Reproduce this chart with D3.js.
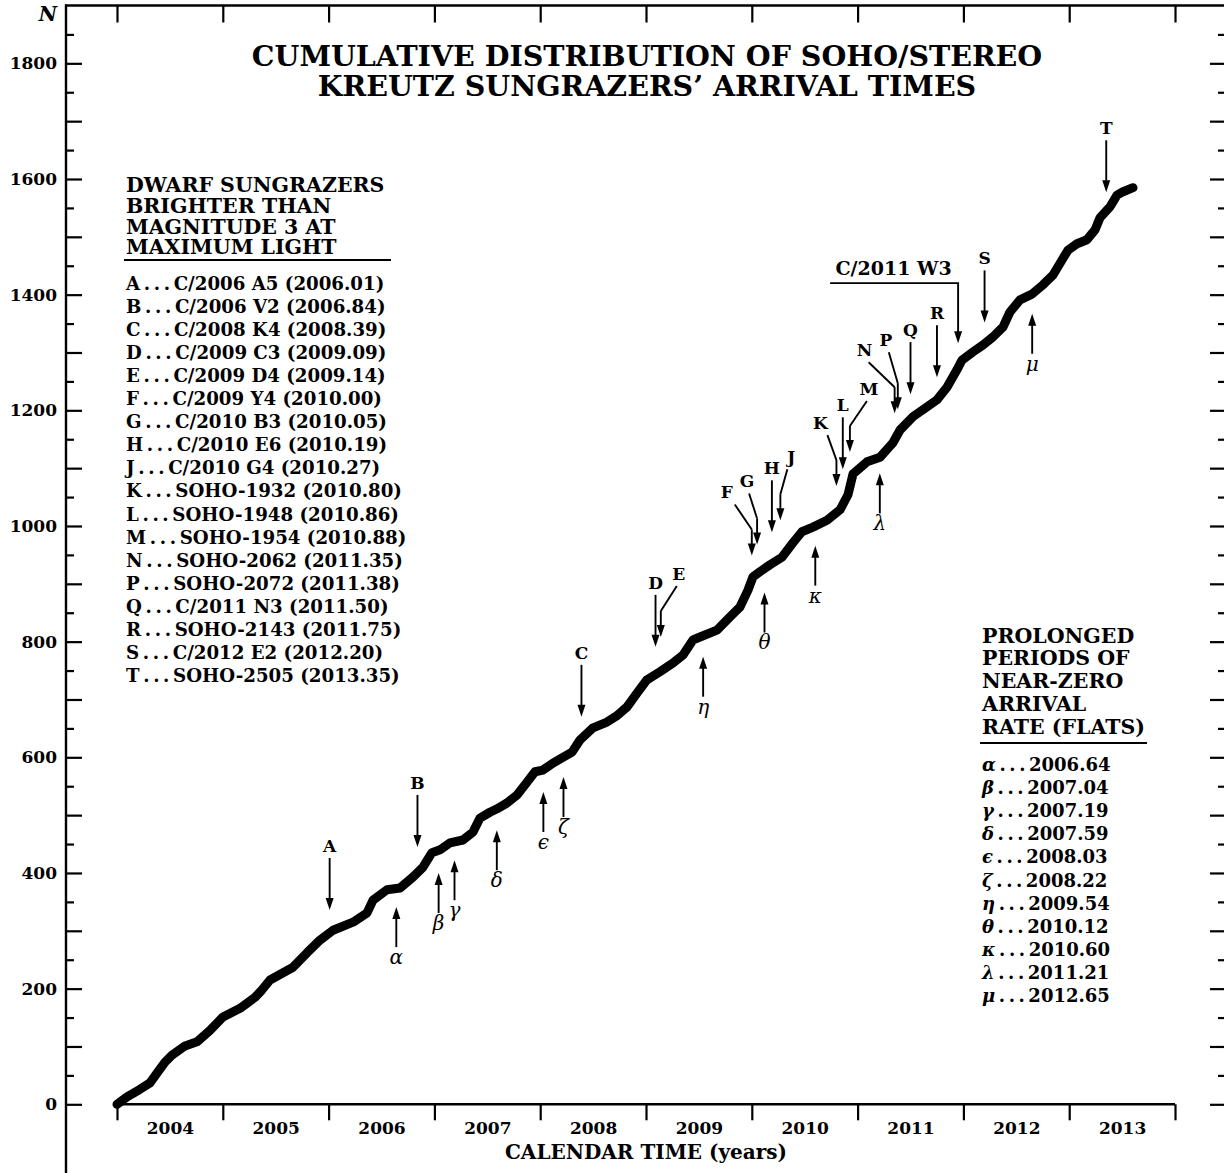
<!DOCTYPE html>
<html><head><meta charset="utf-8">
<script src="https://cdn.jsdelivr.net/npm/d3@7"></script>
<style>
html,body{margin:0;padding:0;background:#fff;}
svg{display:block;}
text{font-family:"DejaVu Serif",serif;fill:#000;}
</style></head><body>
<svg id="chart" width="1224" height="1173"></svg>
<script>
// ---------------- DATA ----------------
const curveYears = [2004.000,2004.095,2004.217,2004.312,2004.378,2004.454,2004.520,2004.643,2004.756,2004.879,
  2005.002,2005.163,2005.304,2005.371,2005.446,2005.664,2005.796,2005.919,2006.042,2006.231,
  2006.363,2006.420,2006.552,2006.675,2006.798,2006.892,2006.977,2007.053,2007.147,2007.270,
  2007.365,2007.431,2007.525,2007.592,2007.686,2007.781,2007.875,2007.951,2008.026,2008.121,
  2008.206,2008.301,2008.376,2008.499,2008.631,2008.726,2008.820,2008.915,2009.009,2009.132,
  2009.255,2009.350,2009.444,2009.510,2009.671,2009.794,2009.888,2009.964,2010.011,2010.078,
  2010.172,2010.285,2010.389,2010.474,2010.578,2010.711,2010.834,2010.909,2010.957,2011.089,
  2011.212,2011.334,2011.401,2011.524,2011.656,2011.750,2011.845,2011.939,2011.987,2012.091,
  2012.185,2012.280,2012.374,2012.440,2012.535,2012.648,2012.752,2012.847,2012.932,2012.989,
  2013.074,2013.168,2013.244,2013.291,2013.386,2013.452,2013.509,2013.603];
const curveCounts = [0,13,26,37,54,73,85,101,108,128,
  151,166,185,198,215,237,262,284,301,315,
  331,353,371,374,393,410,435,440,452,457,
  471,495,505,511,521,535,557,575,578,590,
  599,609,630,651,661,672,687,711,734,748,
  763,777,803,808,820,843,860,889,912,921,
  933,946,971,990,998,1010,1028,1054,1090,1111,
  1119,1144,1166,1189,1206,1218,1240,1270,1287,1301,
  1313,1327,1344,1370,1391,1401,1417,1434,1460,1477,
  1488,1495,1512,1533,1552,1572,1578,1585];

const yearBounds = [2004,2005,2006,2007,2008,2009,2010,2011,2012,2013,2014];
const yearLabels = [2004,2005,2006,2007,2008,2009,2010,2011,2012,2013];
const countLabels = [0,200,400,600,800,1000,1200,1400,1600,1800];

const cometLetters = ["A","B","C","D","E","F","G","H","J","K","L","M","N","P","Q","R","S","T"];
const cometNames = ["C/2006 A5","C/2006 V2","C/2008 K4","C/2009 C3","C/2009 D4","C/2009 Y4","C/2010 B3",
  "C/2010 E6","C/2010 G4","SOHO-1932","SOHO-1948","SOHO-1954","SOHO-2062","SOHO-2072","C/2011 N3",
  "SOHO-2143","C/2012 E2","SOHO-2505"];
const cometDates = [2006.01,2006.84,2008.39,2009.09,2009.14,2010.00,2010.05,2010.19,2010.27,2010.80,
  2010.86,2010.88,2011.35,2011.38,2011.50,2011.75,2012.20,2013.35];

const flatSymbols = ["α","β","γ","δ","ϵ","ζ","η","θ","κ","λ","μ"];
const flatDates = [2006.64,2007.04,2007.19,2007.59,2008.03,2008.22,2009.54,2010.12,2010.60,2011.21,2012.65];

const lovejoyName = "C/2011 W3";
const lovejoyDate = 2011.95;

const titleLines = ["CUMULATIVE DISTRIBUTION OF SOHO/STEREO","KREUTZ SUNGRAZERS’ ARRIVAL TIMES"];
const leftHeader = ["DWARF SUNGRAZERS","BRIGHTER THAN","MAGNITUDE 3 AT","MAXIMUM LIGHT"];
const rightHeader = ["PROLONGED","PERIODS OF","NEAR-ZERO","ARRIVAL","RATE (FLATS)"];
const xTitle = "CALENDAR TIME (years)";
const yTitle = "N";

// ---------------- LAYOUT ----------------
// arrow tips given in count units (N); offsets in px
const cometArrowLayout = {
  A:{tip:336}, B:{tip:445}, C:{tip:670}, D:{tip:791},
  E:{tip:808, bend:16, lab:2},
  F:{tip:949, bend:-17, lab:-8},
  G:{tip:968, bend:-8, lab:-2},
  H:{tip:989},
  J:{tip:1010, bend:7, lab:4},
  K:{tip:1069, bend:-9, lab:-7},
  L:{tip:1098},
  M:{tip:1128, bend:17, lab:2, shift:5},
  N:{tip:1195, bend:-26, lab:-4},
  P:{tip:1202, bend:-9, lab:-3, rise:6},
  Q:{tip:1228}, R:{tip:1257}, S:{tip:1352}, T:{tip:1577}
};
const flatArrowTips = [341,400,422,474,540,566,774,885,966,1091,1367];
const lovejoyLayout = {tip:1316, barN:1420, barStart:2010.74, labelAt:2011.34, labelN:1434};

// ---------------- DRAW ----------------
const svg = d3.select("#chart");
const x = d3.scaleLinear().domain([2003.518, 2014.482]).range([66, 1226]);
const y = d3.scaleLinear().domain([0, 1900]).range([1104.3, 5.5]);
const FRAME_W = 2.4, TICK_W = 2.2;

function cleanAxis(sel){
  sel.attr("font-family", null).attr("font-size", null);
  sel.select(".domain").remove();
  sel.selectAll(".tick line").attr("stroke","#000").attr("stroke-width",TICK_W);
}

// frame
svg.append("line").attr("x1",x.range()[0]).attr("x2",x.range()[0])
  .attr("y1",y.range()[1]-1).attr("y2",1190).attr("stroke","#000").attr("stroke-width",FRAME_W);
svg.append("line").attr("x1",x.range()[0]-1).attr("x2",1240)
  .attr("y1",y.range()[1]).attr("y2",y.range()[1]).attr("stroke","#000").attr("stroke-width",FRAME_W);

const majorN = d3.range(0,1900,100), minorN = d3.range(50,1900,100);
// left ticks
svg.append("g").attr("transform",`translate(${x.range()[0]},0)`)
  .call(d3.axisRight(y).tickValues(majorN).tickSize(16).tickFormat("")).call(cleanAxis);
svg.append("g").attr("transform",`translate(${x.range()[0]},0)`)
  .call(d3.axisRight(y).tickValues(minorN).tickSize(8).tickFormat("")).call(cleanAxis);
// left labels
const yl = svg.append("g").attr("transform",`translate(${x.range()[0]},0)`)
  .call(d3.axisLeft(y).tickValues(countLabels).tickSize(0).tickPadding(9).tickFormat(d3.format("d")))
  .call(cleanAxis);
yl.selectAll("text").attr("font-size",17).attr("font-weight","bold");
// right ticks
svg.append("g").attr("transform",`translate(${x.range()[1]},0)`)
  .call(d3.axisLeft(y).tickValues(majorN).tickSize(16).tickFormat("")).call(cleanAxis);
svg.append("g").attr("transform",`translate(${x.range()[1]},0)`)
  .call(d3.axisLeft(y).tickValues(minorN).tickSize(8).tickFormat("")).call(cleanAxis);
// top ticks
svg.append("g").attr("transform",`translate(0,${y.range()[1]})`)
  .call(d3.axisBottom(x).tickValues(yearBounds).tickSize(17).tickFormat("")).call(cleanAxis);
// bottom axis at N=0
svg.append("line").attr("x1",x(2004)).attr("x2",x(2014)).attr("y1",y(0)).attr("y2",y(0))
  .attr("stroke","#000").attr("stroke-width",FRAME_W);
svg.append("g").attr("transform",`translate(0,${y(0)})`)
  .call(d3.axisBottom(x).tickValues(yearBounds).tickSize(16).tickFormat("")).call(cleanAxis);
const xl = svg.append("g").attr("transform",`translate(0,${y(0)})`)
  .call(d3.axisBottom(x).tickValues(yearLabels.map(d=>d+0.5)).tickSize(0).tickPadding(18)
    .tickFormat(d=>String(Math.floor(d)))).call(cleanAxis);
xl.selectAll("text").attr("font-size",17).attr("font-weight","bold");

// axis titles
svg.append("text").attr("x",(x(2004)+x(2014))/2).attr("y",1159).attr("text-anchor","middle")
  .attr("font-size",20).attr("font-weight","bold").text(xTitle);
svg.append("text").attr("x",57).attr("y",21).attr("text-anchor","end")
  .attr("font-size",20).attr("font-weight","bold").attr("font-style","italic").text(yTitle);

// title
const titleText = svg.append("text").attr("text-anchor","middle")
  .attr("font-size",28.5).attr("font-weight","bold");
titleLines.forEach((t,i)=>titleText.append("tspan").attr("x",647).attr("y",66+i*29.5).text(t));

// curve
const pts = curveYears.map((t,i)=>[t,curveCounts[i]]);
svg.append("path").datum(pts)
  .attr("d", d3.line().x(d=>x(d[0])).y(d=>y(d[1])))
  .attr("fill","none").attr("stroke","#000").attr("stroke-width",9)
  .attr("stroke-linecap","round").attr("stroke-linejoin","round");

// arrows
const ann = svg.append("g");
function headDown(ax, ty){ ann.append("path").attr("d",`M${ax},${ty}L${ax-4},${ty-12}L${ax+4},${ty-12}Z`).attr("fill","#000"); }
function headUp(ax, ty){ ann.append("path").attr("d",`M${ax},${ty}L${ax-4},${ty+12}L${ax+4},${ty+12}Z`).attr("fill","#000"); }
function seg(x1,y1,x2,y2){ ann.append("line").attr("x1",x1).attr("y1",y1).attr("x2",x2).attr("y2",y2)
  .attr("stroke","#000").attr("stroke-width",1.9); }

cometLetters.forEach((L,i)=>{
  const lay = cometArrowLayout[L];
  const ax = x(cometDates[i]) + (lay.shift||0);
  const ty = y(lay.tip);
  let lx, ly;
  if (lay.bend === undefined){
    seg(ax, ty-52, ax, ty-6); headDown(ax, ty);
    lx = ax; ly = ty-58;
  } else {
    const topY = ty-51-(lay.rise||0);
    seg(ax+lay.bend, topY, ax, ty-26); seg(ax, ty-26, ax, ty-6); headDown(ax, ty);
    lx = ax+lay.bend+lay.lab; ly = topY-6;
  }
  ann.append("text").attr("x",lx).attr("y",ly).attr("text-anchor","middle")
    .attr("font-size",17).attr("font-weight","bold").text(L);
});

// Lovejoy
{
  const ax = x(lovejoyDate), ty = y(lovejoyLayout.tip), by = y(lovejoyLayout.barN);
  ann.append("path").attr("d",`M${x(lovejoyLayout.barStart)},${by}H${ax}V${ty-6}`)
    .attr("fill","none").attr("stroke","#000").attr("stroke-width",1.9);
  headDown(ax, ty);
  ann.append("text").attr("x",x(lovejoyLayout.labelAt)).attr("y",y(lovejoyLayout.labelN))
    .attr("text-anchor","middle").attr("font-size",19).attr("font-weight","bold").text(lovejoyName);
}

flatSymbols.forEach((s,i)=>{
  const ax = x(flatDates[i]), ty = y(flatArrowTips[i]);
  seg(ax, ty+6, ax, ty+40); headUp(ax, ty);
  ann.append("text").attr("x",ax).attr("y",ty+57).attr("text-anchor","middle")
    .attr("font-size",20).attr("font-style","italic").text(s);
});

// left legend
const LL = svg.append("g");
const lh = LL.append("text").attr("font-size",20.5).attr("font-weight","bold");
leftHeader.forEach((t,i)=>lh.append("tspan").attr("x",126).attr("y",192+i*20.8).text(t));
LL.append("line").attr("x1",124).attr("x2",391).attr("y1",260).attr("y2",260).attr("stroke","#000").attr("stroke-width",2);
cometLetters.forEach((L,i)=>{
  LL.append("text").attr("x",126).attr("y",289.5+i*23.1).attr("font-size",18.2).attr("font-weight","bold")
    .text(`${L}\u2009.\u2009.\u2009.\u2009${cometNames[i]} (${cometDates[i].toFixed(2)})`);
});

// right legend
const RL = svg.append("g");
const rh = RL.append("text").attr("font-size",20.5).attr("font-weight","bold");
rightHeader.forEach((t,i)=>rh.append("tspan").attr("x",982).attr("y",642.5+i*22.9).text(t));
RL.append("line").attr("x1",980).attr("x2",1147).attr("y1",743).attr("y2",743).attr("stroke","#000").attr("stroke-width",2);
flatSymbols.forEach((s,i)=>{
  const t = RL.append("text").attr("x",982).attr("y",771+i*23.1).attr("font-size",18).attr("font-weight","bold");
  t.append("tspan").attr("font-style","italic").text(s);
  t.append("tspan").text(`\u2009.\u2009.\u2009.\u2009${flatDates[i].toFixed(2)}`);
});
</script>
</body></html>
